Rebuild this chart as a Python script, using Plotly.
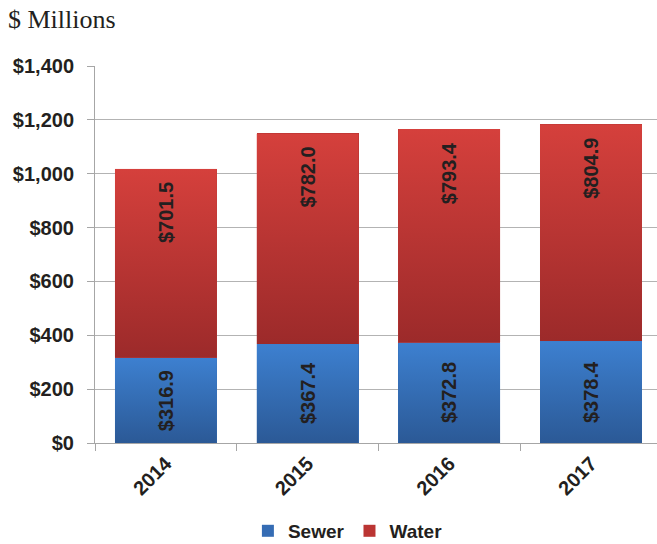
import base64
import plotly.graph_objects as go

# Annual revenue by service, $ millions
years = ["2014", "2015", "2016", "2017"]
sewer = [316.9, 367.4, 372.8, 378.4]
water = [701.5, 782.0, 793.4, 804.9]

y_ticks = [0, 200, 400, 600, 800, 1000, 1200, 1400]
y_tick_text = [f"${v:,}" for v in y_ticks]

BAR_WIDTH = 0.72
FONT = "Liberation Sans, Arial, sans-serif"
INK = "#231f20"

SEWER_TOP, SEWER_BOT, SEWER_MID = "#3d80d0", "#2b5996", "#356cb4"
WATER_TOP, WATER_BOT, WATER_MID = "#d5403c", "#9c2a2a", "#bb3533"


def gradient_uri(top, bottom):
    svg = (
        '<svg xmlns="http://www.w3.org/2000/svg" width="10" height="100" '
        'viewBox="0 0 10 100" preserveAspectRatio="none">'
        '<defs><linearGradient id="g" x1="0" y1="0" x2="0" y2="1">'
        f'<stop offset="0" stop-color="{top}"/>'
        f'<stop offset="1" stop-color="{bottom}"/>'
        '</linearGradient></defs>'
        '<rect width="10" height="100" fill="url(#g)"/></svg>'
    )
    return "data:image/svg+xml;base64," + base64.b64encode(svg.encode()).decode()


fig = go.Figure()
fig.add_trace(go.Bar(name="Sewer", x=years, y=sewer, width=BAR_WIDTH,
                     marker=dict(color=SEWER_MID, line=dict(width=0))))
fig.add_trace(go.Bar(name="Water", x=years, y=water, width=BAR_WIDTH,
                     marker=dict(color=WATER_MID, line=dict(width=0))))

label_font = dict(family=FONT, size=20, color=INK, weight="bold")
images = []
annotations = []
for i, (s, w) in enumerate(zip(sewer, water)):
    # gradient overlay for each stacked segment
    images.append(dict(source=gradient_uri(SEWER_TOP, SEWER_BOT), xref="x", yref="y",
                       x=i - BAR_WIDTH / 2, y=s, sizex=BAR_WIDTH, sizey=s,
                       xanchor="left", yanchor="top", sizing="stretch", layer="above"))
    images.append(dict(source=gradient_uri(WATER_TOP, WATER_BOT), xref="x", yref="y",
                       x=i - BAR_WIDTH / 2, y=s + w, sizex=BAR_WIDTH, sizey=w,
                       xanchor="left", yanchor="top", sizing="stretch", layer="above"))
    # value labels
    annotations.append(dict(x=i, y=s / 2, xref="x", yref="y", text=f"${s:.1f}",
                            textangle=-90, showarrow=False, xanchor="center", yanchor="middle",
                            font=label_font))
    annotations.append(dict(x=i, y=s + w, xref="x", yref="y", text=f"${w:.1f}",
                            textangle=-90, showarrow=False, xanchor="center", yanchor="top",
                            yshift=-11, font=label_font))

annotations.append(dict(text="$ Millions", xref="paper", yref="paper", x=-0.158, y=1.0,
                        yshift=63, xanchor="left", yanchor="top", showarrow=False,
                        font=dict(family="Liberation Serif, Times New Roman, serif",
                                  size=26, color=INK)))

tick_font = dict(family=FONT, size=20, color=INK, weight="bold")

fig.update_layout(
    barmode="stack",
    width=657, height=544,
    margin=dict(l=95, r=0, t=66, b=101),
    paper_bgcolor="white", plot_bgcolor="white",
    showlegend=True,
    legend=dict(orientation="h", x=0.45, xanchor="center",
                yref="container", y=0.024, yanchor="middle",
                font=dict(family=FONT, size=19, color=INK, weight="bold"),
                traceorder="normal", tracegroupgap=0, itemwidth=30),
    images=images,
    annotations=annotations,
    xaxis=dict(range=[-0.5, 3.466], showgrid=False, ticks="outside", tickson="boundaries",
               ticklen=7, tickcolor="#a6a6a6", showline=True, linecolor="#a6a6a6",
               tickangle=-45, tickfont=tick_font),
    yaxis=dict(range=[0, 1400], tickvals=y_ticks, ticktext=y_tick_text,
               showgrid=True, gridcolor="#b3b3b3", gridwidth=1,
               ticks="outside", ticklen=7, tickcolor="#a6a6a6",
               showline=True, linecolor="#a6a6a6", zeroline=False,
               ticklabelstandoff=9, tickfont=tick_font),
)

fig.write_html("out.html")
